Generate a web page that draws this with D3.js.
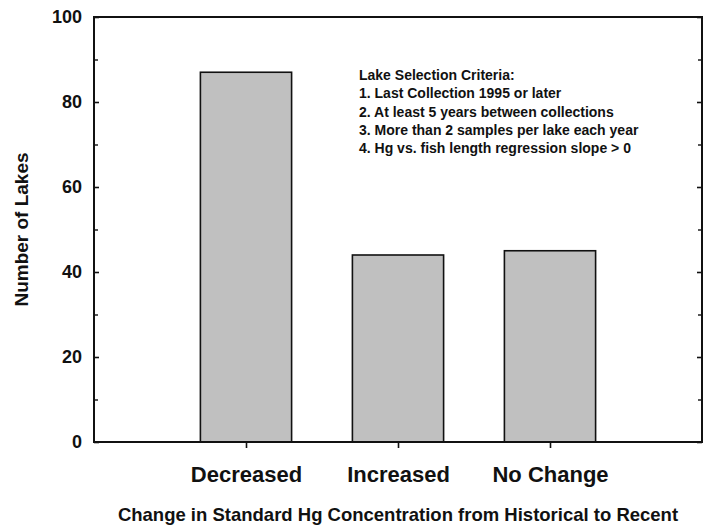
<!DOCTYPE html>
<html>
<head>
<meta charset="utf-8">
<script src="https://cdn.jsdelivr.net/npm/d3@7"></script>
<style>
  html, body { margin: 0; padding: 0; background: #fff; }
  svg { display: block; }
  text { font-family: "Liberation Sans", Arial, sans-serif; fill: #111; font-weight: bold; }
</style>
</head>
<body>
<svg id="chart" width="711" height="525"></svg>
<script>
// Lake counts by direction of change in standard Hg concentration
const categories = ["Decreased", "Increased", "No Change"];
const lakeCounts = [87, 44, 45];
const yTicks = [0, 20, 40, 60, 80, 100];
const yMinorTicks = [10, 30, 50, 70, 90];
const criteriaLines = [
  "Lake Selection Criteria:",
  "1. Last Collection 1995 or later",
  "2. At least 5 years between collections",
  "3. More than 2 samples per lake each year",
  "4. Hg vs. fish length regression slope > 0"
];
const xTitle = "Change in Standard Hg Concentration from Historical to Recent";
const yTitle = "Number of Lakes";

const svg = d3.select("#chart");
const margin = { left: 94, right: 9, top: 17, bottom: 83 };
const W = 711, H = 525;
const x0 = margin.left, x1 = W - margin.right;
const y0 = H - margin.bottom, y1 = margin.top;

// categories sit at positions 1..n on a 0..n+1 axis
const x = d3.scaleLinear().domain([0, categories.length + 1]).range([x0, x1]);
const y = d3.scaleLinear().domain([0, 100]).range([y0, y1]);
const step = x(1) - x(0);
const barW = step * 0.6;

const font = "Liberation Sans, Arial, sans-serif";

// bars
svg.append("g").selectAll("rect")
  .data(lakeCounts)
  .join("rect")
  .attr("x", (d, i) => x(i + 1) - barW / 2)
  .attr("y", d => y(d))
  .attr("width", barW)
  .attr("height", d => y(0) - y(d))
  .attr("fill", "#c0c0c0")
  .attr("stroke", "#111")
  .attr("stroke-width", 1.6);

// left axis: inward ticks, labels outside
const left = svg.append("g").attr("transform", `translate(${x0},0)`)
  .call(d3.axisLeft(y).tickValues(yTicks).tickSizeInner(-5).tickSizeOuter(0).tickPadding(12));
left.select(".domain").remove();
left.selectAll("line").attr("stroke", "#111").attr("stroke-width", 1.6);
left.selectAll("text").attr("font-size", 18).style("font-family", font)
  .style("font-weight", "bold").attr("fill", "#111");
svg.append("g").attr("transform", `translate(${x0},0)`)
  .call(d3.axisLeft(y).tickValues(yMinorTicks).tickSizeInner(-4).tickSizeOuter(0).tickFormat(""))
  .call(g => g.select(".domain").remove())
  .selectAll("line").attr("stroke", "#111").attr("stroke-width", 1.4);

// right axis: inward ticks, no labels
svg.append("g").attr("transform", `translate(${x1},0)`)
  .call(d3.axisRight(y).tickValues(yTicks).tickSizeInner(-5).tickSizeOuter(0).tickFormat(""))
  .call(g => g.select(".domain").remove())
  .selectAll("line").attr("stroke", "#111").attr("stroke-width", 1.6);
svg.append("g").attr("transform", `translate(${x1},0)`)
  .call(d3.axisRight(y).tickValues(yMinorTicks).tickSizeInner(-4).tickSizeOuter(0).tickFormat(""))
  .call(g => g.select(".domain").remove())
  .selectAll("line").attr("stroke", "#111").attr("stroke-width", 1.4);

// bottom axis: outward ticks under each category
const bottom = svg.append("g").attr("transform", `translate(0,${y0})`)
  .call(d3.axisBottom(x).tickValues(d3.range(1, categories.length + 1))
    .tickFormat(i => categories[i - 1]).tickSizeInner(6).tickSizeOuter(0).tickPadding(18));
bottom.select(".domain").remove();
bottom.selectAll("line").attr("stroke", "#111").attr("stroke-width", 1.6);
bottom.selectAll("text").attr("font-size", 22).style("font-family", font)
  .style("font-weight", "bold").attr("fill", "#111");

// frame
svg.append("rect")
  .attr("x", x0).attr("y", y1)
  .attr("width", x1 - x0).attr("height", y0 - y1)
  .attr("fill", "none").attr("stroke", "#111").attr("stroke-width", 2);

// axis titles
svg.append("text")
  .attr("x", (x0 + x1) / 2).attr("y", 521)
  .attr("text-anchor", "middle").attr("font-size", 18.5)
  .text(xTitle);
svg.append("text")
  .attr("transform", `translate(28,${(y0 + y1) / 2}) rotate(-90)`)
  .attr("text-anchor", "middle").attr("font-size", 19)
  .text(yTitle);

// selection criteria note
svg.append("g").selectAll("text")
  .data(criteriaLines)
  .join("text")
  .attr("x", 359)
  .attr("y", (d, i) => 80 + i * 18.3)
  .attr("font-size", 14)
  .text(d => d);
</script>
</body>
</html>
